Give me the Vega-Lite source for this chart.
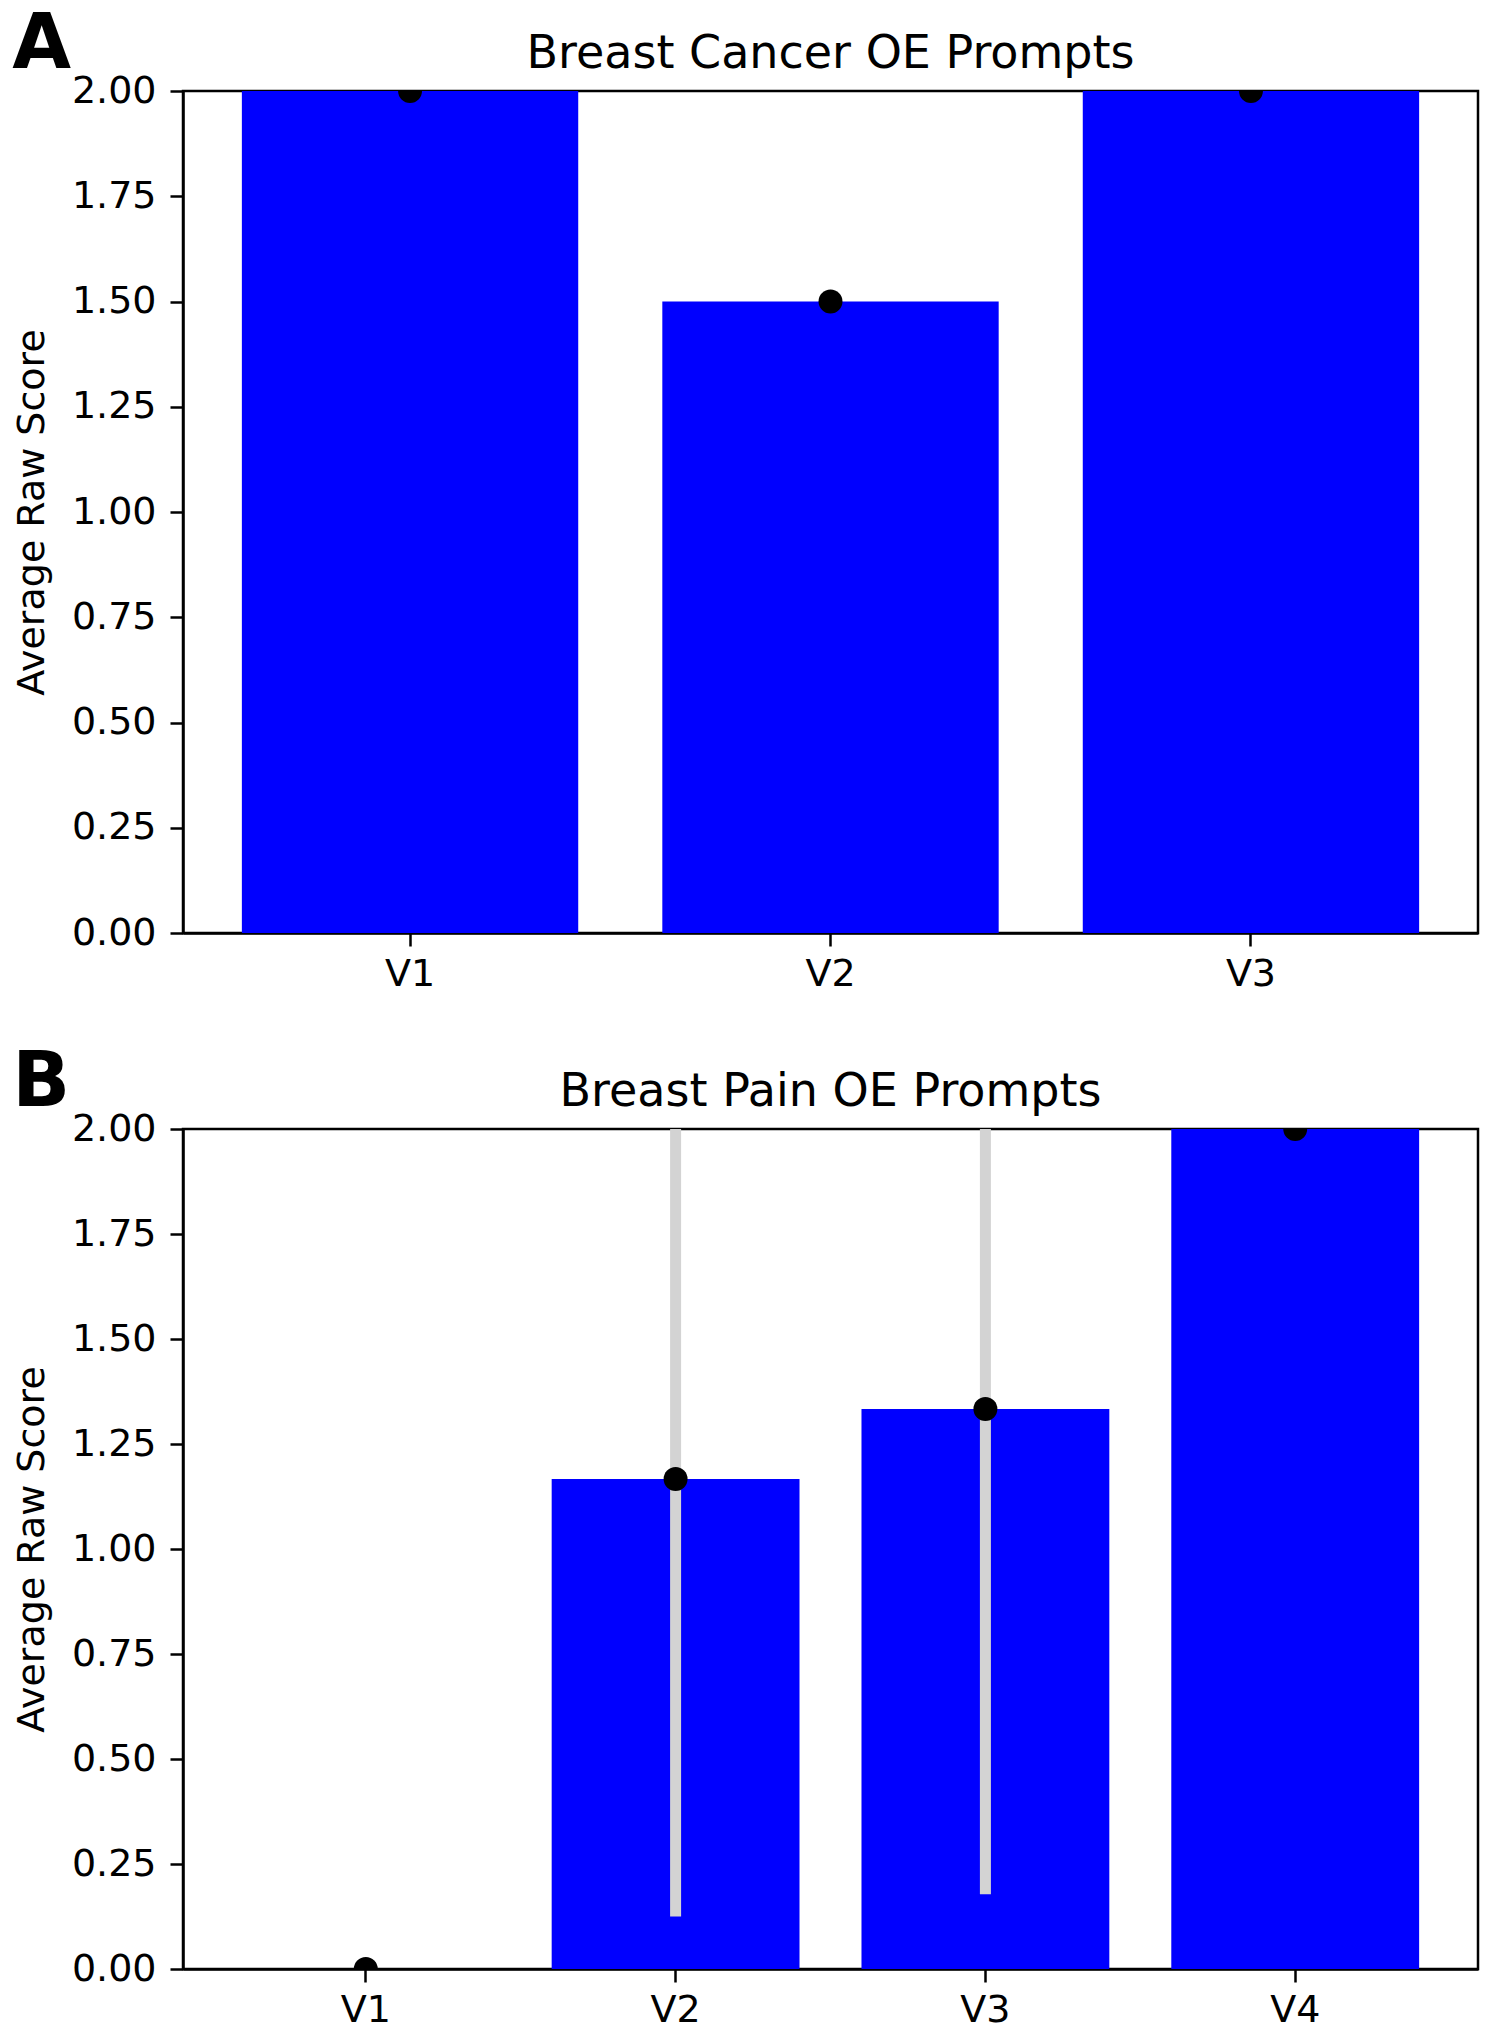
{
  "$schema": "https://vega.github.io/schema/vega-lite/v6.json",
  "background": "white",
  "padding": {"left": 12, "top": 6, "right": 16, "bottom": 5},
  "datasets": {
    "cancer": [
      {"version": "V1", "score": 2.0},
      {"version": "V2", "score": 1.5},
      {"version": "V3", "score": 2.0}
    ],
    "pain": [
      {"version": "V1", "score": 0.0, "low": null, "high": null},
      {"version": "V2", "score": 1.1667, "low": 0.125, "high": 2.21},
      {"version": "V3", "score": 1.3333, "low": 0.178, "high": 2.49},
      {"version": "V4", "score": 2.0, "low": null, "high": null}
    ]
  },
  "spacing": 49,
  "vconcat": [
    {
      "title": {"text": "A", "anchor": "start", "frame": "bounds", "fontSize": 76, "fontWeight": "bold", "offset": 0, "dy": 54},
      "vconcat": [
        {
          "title": {"text": "Breast Cancer OE Prompts", "offset": 0, "dy": 6},
          "width": 1295,
          "height": 842,
          "data": {"name": "cancer"},
          "encoding": {
            "x": {"field": "version", "type": "nominal", "title": null,
                  "scale": {"paddingInner": 0.2, "paddingOuter": 0.14},
                  "axis": {"labelAngle": 0, "labelPadding": 9}},
            "y": {"field": "score", "type": "quantitative", "title": "Average Raw Score",
                  "scale": {"domain": [0, 2], "nice": false},
                  "axis": {"values": [0, 0.25, 0.5, 0.75, 1, 1.25, 1.5, 1.75, 2], "format": ".2f"}}
          },
          "layer": [
            {"mark": {"type": "bar", "color": "#0000ff"}},
            {"mark": {"type": "circle", "color": "black", "opacity": 1, "size": 573, "clip": true}}
          ]
        }
      ]
    },
    {
      "title": {"text": "B", "anchor": "start", "frame": "bounds", "fontSize": 76, "fontWeight": "bold", "offset": 0, "dy": 54},
      "vconcat": [
        {
          "title": {"text": "Breast Pain OE Prompts", "offset": 0, "dy": 6},
          "width": 1295,
          "height": 840,
          "data": {"name": "pain"},
          "encoding": {
            "x": {"field": "version", "type": "nominal", "title": null,
                  "scale": {"paddingInner": 0.2, "paddingOuter": 0.19},
                  "axis": {"labelAngle": 0, "labelPadding": 9}},
            "y": {"field": "score", "type": "quantitative", "title": "Average Raw Score",
                  "scale": {"domain": [0, 2], "nice": false},
                  "axis": {"values": [0, 0.25, 0.5, 0.75, 1, 1.25, 1.5, 1.75, 2], "format": ".2f"}}
          },
          "layer": [
            {"mark": {"type": "bar", "color": "#0000ff"}},
            {"mark": {"type": "rule", "color": "#d3d3d3", "strokeWidth": 11, "clip": true},
             "encoding": {"y": {"field": "low", "type": "quantitative"}, "y2": {"field": "high"}}},
            {"mark": {"type": "circle", "color": "black", "opacity": 1, "size": 573, "clip": true}}
          ]
        }
      ]
    }
  ],
  "config": {
    "font": "DejaVu Sans",
    "view": {"stroke": "black", "strokeWidth": 2.5},
    "title": {"fontSize": 46, "fontWeight": "normal", "color": "black", "font": "DejaVu Sans"},
    "axis": {
      "grid": false,
      "domainColor": "black",
      "domainWidth": 2.5,
      "tickColor": "black",
      "tickWidth": 2.5,
      "tickSize": 13,
      "labelFontSize": 38,
      "labelColor": "black",
      "labelFont": "DejaVu Sans",
      "labelPadding": 14,
      "titleFontSize": 38,
      "titleFontWeight": "normal",
      "titleColor": "black",
      "titleFont": "DejaVu Sans",
      "titlePadding": 20
    }
  }
}
